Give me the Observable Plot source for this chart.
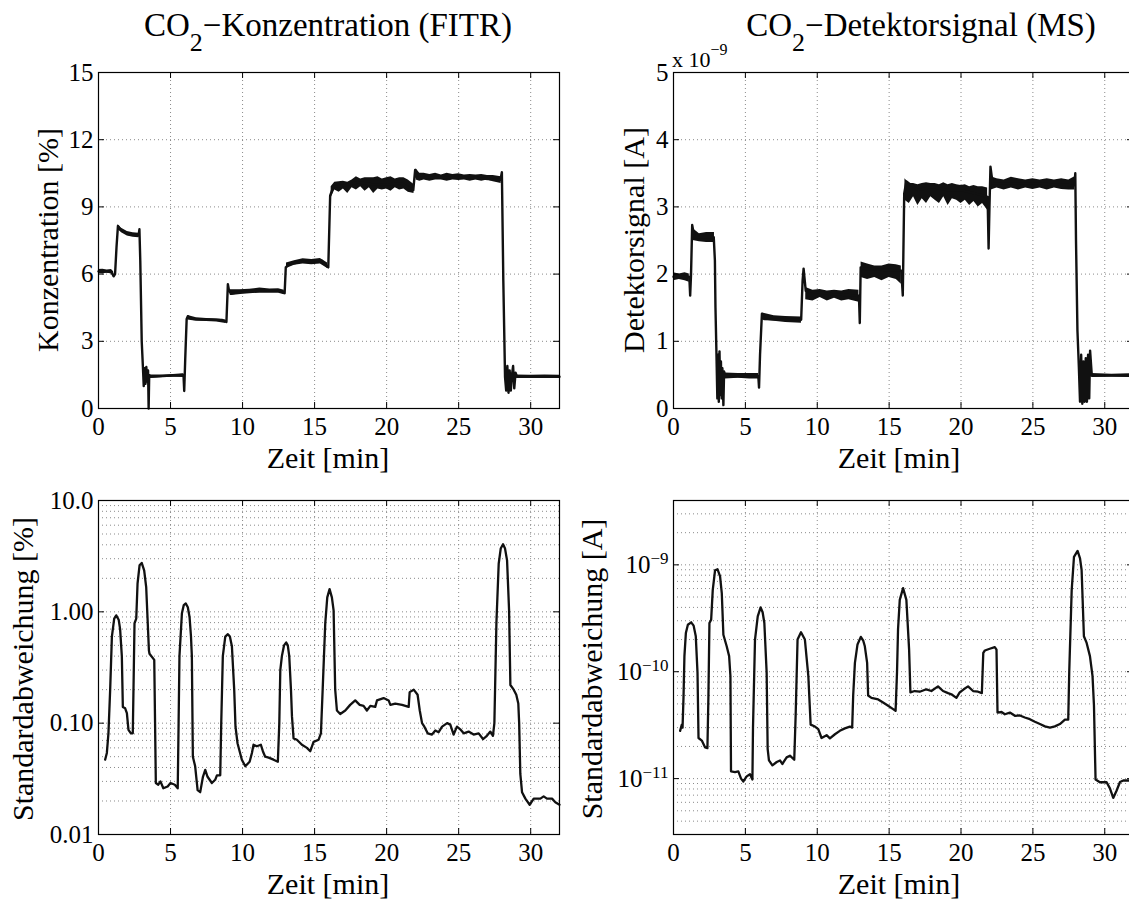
<!DOCTYPE html>
<html><head><meta charset="utf-8">
<script src="https://cdn.jsdelivr.net/npm/d3@7"></script>
<script src="https://cdn.jsdelivr.net/npm/@observablehq/plot@0.6"></script>
<style>
body{margin:0;background:#fff;}
#root{position:relative;width:1129px;height:904px;overflow:hidden;background:#fff;font-family:"Liberation Serif","Times New Roman",serif;color:#000;}
.abs{position:absolute;white-space:nowrap;line-height:1;}
.rot{transform:translate(-50%,-50%) rotate(-90deg);}
.cen{transform:translate(-50%,-50%);}
</style></head><body><div id="root"></div>
<script>
// ---------- data ----------
const timeTicks = [0,5,10,15,20,25,30];
const timeGrid = [5,10,15,20,25,30];
const ftirTicks = [0,3,6,9,12,15];
const msTicks = [0,1,2,3,4,5];            // x 10^-9 A
const sdFtirTicks = [0.01,0.1,1,10];
const sdFtirTickLabels = ["0.01","0.10","1.00","10.0"];
const sdFtirMinor = [0.02,0.03,0.04,0.05,0.06,0.07,0.08,0.09,0.2,0.3,0.4,0.5,0.6,0.7,0.8,0.9,2,3,4,5,6,7,8,9];
const sdMsTicks = [1e-11,1e-10,1e-9];
const sdMsTickLabels = ["10^\u221211","10^\u221210","10^\u22129"];
const sdMsMinor = [4e-12,5e-12,6e-12,7e-12,8e-12,9e-12,2e-11,3e-11,4e-11,5e-11,6e-11,7e-11,8e-11,9e-11,2e-10,3e-10,4e-10,5e-10,6e-10,7e-10,8e-10,9e-10,2e-9,3e-9];

// CO2 concentration (FTIR) [%]: [time min, value]
const ftirTrace = [[0,6.12],[0.9,6.1],[1.05,5.9],[1.15,6.0],[1.25,7.2],[1.35,8.15],[1.5,8.0],[2.0,7.8],[2.78,7.72],[2.84,8.0],[2.9,6.6],[2.95,4.8],[3.0,3.0],[3.08,1.9],[3.14,1.0],[3.2,1.8],[3.26,1.1],[3.32,1.85],[3.38,1.2],[3.44,1.7],[3.48,0.0],[3.52,1.5],[3.6,1.42],[5.9,1.5],[5.95,0.78],[6.02,2.2],[6.12,4.0],[6.2,4.12],[6.5,4.0],[8.6,3.95],[8.88,3.86],[8.98,5.55],[9.05,5.3],[9.2,5.12],[11,5.25],[12.5,5.27],[12.92,5.15],[13.0,6.3],[13.2,6.42],[14.0,6.55],[15.5,6.6],[15.85,6.35],[15.95,6.3],[16.08,9.5],[16.3,9.9],[17,9.95],[18,10.1],[19,10.0],[20,10.0],[21,10.05],[21.85,9.75],[21.98,10.65],[22.05,10.35],[22.3,10.3],[24,10.32],[26,10.3],[27.9,10.2],[28.0,10.55],[28.1,5.7],[28.22,1.4],[28.3,0.8],[28.38,1.9],[28.46,0.7],[28.54,1.7],[28.62,0.8],[28.7,1.5],[28.78,1.9],[28.86,0.9],[28.95,1.6],[29.05,1.42],[32,1.42]];
// noise envelope of the FTIR trace: [segment, time, low, high]
const ftirNoise = [
 [1,0,6.02,6.2],[1,0.3,6.0,6.22],[1,0.6,6.05,6.18],[1,0.9,6.0,6.2],[1,1.05,5.85,6.1],
 [2,1.35,8.0,8.2],[2,1.6,7.85,8.05],[2,2.0,7.7,7.9],[2,2.4,7.65,7.85],[2,2.8,7.62,7.82],
 [3,3.6,1.35,1.5],[3,4.5,1.38,1.5],[3,5.2,1.4,1.52],[3,5.9,1.38,1.55],
 [4,6.2,3.95,4.15],[4,6.8,3.9,4.05],[4,7.5,3.88,4.02],[4,8.2,3.86,4.0],[4,8.85,3.8,3.95],
 [5,9.15,5.05,5.3],[5,9.8,5.12,5.3],[5,10.5,5.12,5.32],[5,11.2,5.15,5.38],[5,11.9,5.15,5.33],[5,12.5,5.15,5.35],[5,12.9,5.08,5.28],
 [6,13.05,6.25,6.5],[6,13.6,6.4,6.6],[6,14.2,6.45,6.68],[6,14.8,6.42,6.65],[6,15.4,6.45,6.7],[6,15.9,6.25,6.5],
 [7,16.15,9.4,9.9],[7,16.4,9.75,10.1],[7,16.7,9.65,10.12],[7,17.0,9.8,10.15],[7,17.3,9.6,10.1],[7,17.6,9.85,10.2],[7,17.9,9.75,10.35],[7,18.2,9.9,10.25],[7,18.5,9.7,10.3],[7,18.8,9.85,10.3],[7,19.1,9.6,10.3],[7,19.4,9.8,10.35],[7,19.7,9.75,10.25],[7,20.0,9.8,10.3],[7,20.3,9.7,10.35],[7,20.6,9.85,10.25],[7,20.9,9.75,10.3],[7,21.2,9.8,10.3],[7,21.5,9.65,10.2],[7,21.9,9.6,10.0],
 [8,22.05,10.2,10.7],[8,22.3,10.15,10.5],[8,22.6,10.2,10.5],[8,23.0,10.15,10.45],[8,23.4,10.2,10.5],[8,23.8,10.2,10.42],[8,24.2,10.15,10.5],[8,24.6,10.2,10.45],[8,25.0,10.18,10.48],[8,25.4,10.2,10.42],[8,25.8,10.15,10.45],[8,26.2,10.2,10.42],[8,26.6,10.15,10.45],[8,27.0,10.2,10.4],[8,27.4,10.12,10.4],[8,27.95,10.05,10.35],
 [9,29.0,1.35,1.5],[9,30,1.36,1.48],[9,31,1.37,1.5],[9,32,1.36,1.48]];

// CO2 detector signal (MS) [x 10^-9 A]
const msTrace = [[0,1.96],[1.1,1.96],[1.16,1.68],[1.22,2.0],[1.3,2.73],[1.45,2.55],[2.0,2.55],[2.8,2.55],[2.88,2.2],[2.92,1.5],[2.98,0.9],[3.05,0.15],[3.1,0.8],[3.15,0.1],[3.2,0.85],[3.25,0.2],[3.3,0.7],[3.35,0.15],[3.4,0.6],[3.47,0.05],[3.52,0.55],[3.6,0.48],[5.9,0.48],[5.95,0.31],[6.02,0.8],[6.15,1.41],[6.3,1.33],[8.88,1.32],[8.98,1.9],[9.05,2.08],[9.2,1.75],[11,1.7],[12.9,1.68],[12.96,1.27],[13.02,2.1],[13.3,2.08],[15.85,2.05],[15.95,1.68],[16.05,3.2],[16.2,3.38],[17,3.25],[18,3.3],[19,3.25],[20,3.25],[21,3.2],[21.85,3.15],[21.92,2.38],[21.98,3.0],[22.05,3.6],[22.2,3.35],[25,3.35],[27.9,3.32],[27.95,3.5],[28.0,2.5],[28.1,1.16],[28.2,0.61],[28.28,0.1],[28.36,0.8],[28.44,0.07],[28.52,0.7],[28.6,0.1],[28.68,0.75],[28.76,0.1],[28.84,0.8],[28.92,0.15],[28.98,0.86],[29.1,0.49],[32,0.49]];
const msNoise = [
 [1,0,1.9,2.02],[1,0.4,1.92,2.0],[1,0.8,1.9,2.02],[1,1.1,1.88,2.0],
 [2,1.35,2.5,2.68],[2,1.8,2.48,2.6],[2,2.3,2.47,2.62],[2,2.85,2.47,2.62],
 [3,3.6,0.44,0.53],[3,4.5,0.45,0.52],[3,5.3,0.44,0.52],[3,5.92,0.44,0.52],
 [4,6.2,1.32,1.42],[4,7.0,1.3,1.38],[4,7.8,1.28,1.37],[4,8.9,1.27,1.36],
 [5,9.2,1.62,1.8],[5,9.7,1.6,1.76],[5,10.2,1.65,1.77],[5,10.7,1.6,1.75],[5,11.2,1.64,1.76],[5,11.7,1.6,1.75],[5,12.2,1.62,1.77],[5,12.9,1.58,1.76],
 [6,13.05,1.95,2.18],[6,13.5,1.92,2.15],[6,14.0,1.95,2.12],[6,14.5,1.9,2.12],[6,15.0,1.95,2.15],[6,15.5,1.92,2.14],[6,15.85,1.85,2.12],
 [7,16.1,3.1,3.42],[7,16.4,3.05,3.35],[7,16.7,3.15,3.35],[7,17.0,3.02,3.33],[7,17.3,3.12,3.35],[7,17.6,3.05,3.36],[7,17.9,3.15,3.35],[7,18.2,3.1,3.35],[7,18.5,3.05,3.33],[7,18.8,3.15,3.36],[7,19.1,3.02,3.33],[7,19.4,3.12,3.35],[7,19.7,3.1,3.33],[7,20.0,3.05,3.32],[7,20.3,3.1,3.33],[7,20.6,3.02,3.3],[7,20.9,3.08,3.32],[7,21.2,3.0,3.3],[7,21.5,3.05,3.3],[7,21.85,2.95,3.28],
 [8,22.1,3.25,3.45],[8,22.5,3.28,3.42],[8,23.0,3.25,3.4],[8,23.5,3.28,3.44],[8,24.0,3.25,3.42],[8,24.5,3.28,3.4],[8,25.0,3.26,3.42],[8,25.5,3.28,3.4],[8,26.0,3.25,3.42],[8,26.5,3.28,3.4],[8,27.0,3.26,3.42],[8,27.5,3.25,3.4],[8,27.92,3.25,3.45],
 [9,29.1,0.46,0.52],[9,30.5,0.47,0.51],[9,32,0.46,0.52]];

// standard deviation FTIR [%]
const sdFtir = [[0.46,0.047],[0.58,0.054],[0.69,0.081],[0.81,0.2],[0.93,0.6],[1.09,0.87],[1.23,0.93],[1.4,0.85],[1.5,0.7],[1.62,0.4],[1.69,0.14],[1.85,0.136],[1.97,0.123],[2.08,0.087],[2.25,0.081],[2.38,0.081],[2.45,0.3],[2.5,0.79],[2.62,0.87],[2.71,1.79],[2.85,2.62],[3.0,2.75],[3.17,2.36],[3.31,1.67],[3.4,0.9],[3.5,0.45],[3.54,0.42],[3.87,0.37],[3.98,0.029],[4.15,0.028],[4.3,0.03],[4.5,0.026],[4.8,0.027],[5.0,0.029],[5.3,0.028],[5.5,0.026],[5.56,0.1],[5.62,0.4],[5.79,0.97],[5.92,1.15],[6.06,1.19],[6.2,1.1],[6.32,0.9],[6.42,0.6],[6.48,0.4],[6.55,0.05],[6.71,0.041],[6.88,0.025],[7.06,0.024],[7.25,0.033],[7.41,0.038],[7.57,0.033],[7.87,0.029],[8.1,0.031],[8.22,0.034],[8.45,0.034],[8.52,0.1],[8.63,0.4],[8.8,0.6],[8.98,0.63],[9.12,0.6],[9.26,0.49],[9.42,0.2],[9.51,0.093],[9.65,0.066],[9.95,0.047],[10.19,0.041],[10.49,0.045],[10.65,0.054],[10.76,0.064],[10.99,0.062],[11.27,0.064],[11.41,0.056],[11.57,0.05],[11.81,0.049],[12.15,0.047],[12.45,0.045],[12.55,0.1],[12.62,0.3],[12.73,0.4],[12.88,0.5],[13.03,0.53],[13.14,0.5],[13.24,0.4],[13.36,0.2],[13.43,0.115],[13.54,0.073],[13.77,0.071],[14.12,0.064],[14.47,0.06],[14.7,0.056],[14.93,0.068],[15.28,0.071],[15.44,0.081],[15.56,0.2],[15.74,0.79],[15.88,1.35],[16.04,1.6],[16.2,1.35],[16.32,1.03],[16.43,0.2],[16.55,0.13],[16.78,0.121],[17.13,0.13],[17.47,0.146],[17.82,0.16],[18.13,0.146],[18.4,0.143],[18.63,0.13],[18.87,0.143],[19.21,0.14],[19.33,0.16],[19.79,0.168],[20.14,0.16],[20.26,0.146],[20.6,0.15],[21.07,0.146],[21.53,0.14],[21.6,0.19],[21.88,0.2],[22.15,0.18],[22.3,0.13],[22.46,0.1],[22.62,0.093],[22.85,0.081],[23.15,0.079],[23.38,0.086],[23.61,0.083],[23.85,0.093],[24.2,0.1],[24.42,0.097],[24.65,0.079],[24.88,0.093],[25.11,0.088],[25.35,0.081],[25.69,0.084],[26.04,0.079],[26.39,0.081],[26.69,0.072],[26.92,0.076],[27.2,0.084],[27.38,0.077],[27.48,0.1],[27.62,0.79],[27.78,2.71],[27.92,3.7],[28.08,4.04],[28.22,3.7],[28.36,2.9],[28.5,1.03],[28.59,0.22],[28.82,0.2],[29.0,0.18],[29.14,0.15],[29.2,0.1],[29.28,0.035],[29.4,0.024],[29.63,0.021],[29.93,0.0185],[30.21,0.021],[30.67,0.021],[30.9,0.022],[31.13,0.021],[31.48,0.021],[31.71,0.0195],[32,0.0185]];

// standard deviation MS [A]
const sdMs = [[0.46,2.8e-11],[0.58,3.2e-11],[0.63,3.0e-11],[0.7,6e-11],[0.76,1.4e-10],[0.86,2.3e-10],[1.0,2.75e-10],[1.23,2.9e-10],[1.4,2.7e-10],[1.55,2.15e-10],[1.67,9.8e-11],[1.74,2.4e-11],[1.97,2.27e-11],[2.2,1.96e-11],[2.36,1.93e-11],[2.43,6e-11],[2.5,2.86e-10],[2.62,3.07e-10],[2.73,5.8e-10],[2.89,8.9e-10],[3.06,9.1e-10],[3.24,7.8e-10],[3.36,5.4e-10],[3.47,2.22e-10],[3.7,1.73e-10],[3.87,1.4e-10],[3.96,9.1e-11],[4.0,1.17e-11],[4.28,1.15e-11],[4.51,1.17e-11],[4.7,1.0e-11],[4.86,9.4e-12],[5.09,1.05e-11],[5.32,1.1e-11],[5.49,9.8e-12],[5.53,3e-11],[5.67,2.0e-10],[5.86,3.3e-10],[6.06,4.0e-10],[6.2,3.6e-10],[6.32,2.86e-10],[6.48,9.8e-11],[6.55,1.9e-11],[6.64,1.48e-11],[6.88,1.33e-11],[7.18,1.43e-11],[7.41,1.48e-11],[7.57,1.37e-11],[7.87,1.58e-11],[8.1,1.64e-11],[8.4,1.5e-11],[8.5,4e-11],[8.63,2.0e-10],[8.87,2.34e-10],[9.14,2.0e-10],[9.38,9.1e-11],[9.54,3.2e-11],[9.84,3.07e-11],[10.07,2.9e-11],[10.3,2.4e-11],[10.65,2.55e-11],[10.88,2.38e-11],[11.23,2.6e-11],[11.57,2.8e-11],[11.92,2.95e-11],[12.27,3.07e-11],[12.43,3.0e-11],[12.5,6e-11],[12.62,1.21e-10],[12.8,1.8e-10],[13.03,2.12e-10],[13.2,1.95e-10],[13.31,1.73e-10],[13.47,1.21e-10],[13.54,6.0e-11],[13.77,5.7e-11],[14.24,5.5e-11],[14.58,5.15e-11],[14.93,4.8e-11],[15.28,4.47e-11],[15.45,4.3e-11],[15.55,1e-10],[15.62,2.5e-10],[15.74,4.7e-10],[15.97,6.05e-10],[16.2,4.7e-10],[16.39,1.61e-10],[16.48,6.4e-11],[16.78,6.6e-11],[17.13,6.5e-11],[17.59,6.85e-11],[17.94,6.6e-11],[18.4,7.3e-11],[18.75,6.6e-11],[19.1,6.3e-11],[19.33,6.15e-11],[19.68,5.7e-11],[19.91,6.4e-11],[20.19,6.85e-11],[20.49,7.3e-11],[20.84,6.6e-11],[21.19,6.5e-11],[21.45,6.3e-11],[21.55,1.5e-10],[21.66,1.58e-10],[22.0,1.64e-10],[22.35,1.7e-10],[22.47,1.61e-10],[22.54,4.15e-11],[22.82,4.2e-11],[23.05,4.0e-11],[23.4,4.15e-11],[23.75,3.87e-11],[24.1,3.9e-11],[24.44,3.73e-11],[24.79,3.6e-11],[25.14,3.4e-11],[25.49,3.24e-11],[25.84,3.08e-11],[26.19,3.0e-11],[26.53,3.08e-11],[26.88,3.24e-11],[27.23,3.56e-11],[27.46,3.56e-11],[27.53,1e-10],[27.7,5.8e-10],[27.86,1.19e-9],[28.11,1.35e-9],[28.28,1.15e-9],[28.39,8.95e-10],[28.55,2.15e-10],[28.74,1.86e-10],[28.97,1.4e-10],[29.15,9.1e-11],[29.25,4.8e-11],[29.36,9.8e-12],[29.66,9.25e-12],[30.13,9.25e-12],[30.36,8.1e-12],[30.59,6.6e-12],[30.82,7.7e-12],[31.06,9.3e-12],[31.29,9.6e-12],[31.68,9.6e-12],[32,9.6e-12]];

// ---------- drawing ----------
const root = document.getElementById("root");
const gridStyle = {stroke: "#8a8a8a", strokeWidth: 1, strokeDasharray: "1,3"};
const ink = "#111";
const serif = "Liberation Serif";
const labelStyle = {fontFamily: serif, fontSize: 25, fill: "#000", stroke: null};

function panel(o) {
  const fw = o.width - o.mL - o.mR, fh = o.height - o.mT - o.mB;
  const yt = o.yTicks;
  const marks = [
    Plot.ruleX(timeGrid, {x: d => d, ...gridStyle}),
    ...(o.yMinor ? [Plot.ruleY(o.yMinor, {y: d => d, ...gridStyle})] : []),
    Plot.ruleY(o.yGrid, {y: d => d, ...gridStyle}),
    ...o.marks,
    Plot.tickX(timeTicks, {x: d => d, insetTop: fh - 6, stroke: "#000"}),
    Plot.tickX(timeTicks, {x: d => d, insetBottom: fh - 6, stroke: "#000"}),
    Plot.tickY(yt, {y: d => d, insetRight: fw - 6, stroke: "#000"}),
    Plot.tickY(yt, {y: d => d, insetLeft: fw - 6, stroke: "#000"}),
    Plot.frame({stroke: "#000", strokeWidth: 1.2}),
    // tick labels
    Plot.text(timeTicks, {x: d => d, frameAnchor: "bottom", dy: 18, lineAnchor: "middle", textAnchor: "middle", text: d => String(d), ...labelStyle}),
    Plot.text(yt, {y: d => d, frameAnchor: "left", dx: -5, lineAnchor: "middle", textAnchor: "end", text: (d, i) => o.yLabels[i], ...labelStyle})
  ];
  const svg = Plot.plot({
    width: o.width, height: o.height,
    marginLeft: o.mL, marginRight: o.mR, marginTop: o.mT, marginBottom: o.mB,
    style: {background: "transparent", overflow: "visible"},
    x: {domain: [0, 32], axis: null},
    y: {...o.y, axis: null},
    marks
  });
  svg.style.position = "absolute";
  svg.style.left = o.left + "px";
  svg.style.top = o.top + "px";
  svg.style.maxWidth = "none";
  root.appendChild(svg);
  return svg;
}

const noiseArea = (rows) => Plot.areaY(rows, {x: d => d[1], y1: d => d[2], y2: d => d[3], z: d => d[0], fill: ink});

panel({left: 0, top: 0, width: 565, height: 460, mL: 98, mR: 6, mT: 72, mB: 52,
  y: {domain: [0, 15]}, yTicks: ftirTicks, yLabels: ftirTicks.map(String), yGrid: [3, 6, 9, 12],
  marks: [
    noiseArea(ftirNoise),
    Plot.line(ftirTrace, {x: d => d[0], y: d => d[1], stroke: ink, strokeWidth: 2.4, strokeLinejoin: "round"})
  ]});

panel({left: 560, top: 0, width: 575, height: 460, mL: 113, mR: 2, mT: 72, mB: 52,
  y: {domain: [0, 5]}, yTicks: msTicks, yLabels: msTicks.map(String), yGrid: [1, 2, 3, 4],
  marks: [
    noiseArea(msNoise),
    Plot.line(msTrace, {x: d => d[0], y: d => d[1], stroke: ink, strokeWidth: 2.4, strokeLinejoin: "round"})
  ]});

panel({left: 0, top: 460, width: 565, height: 444, mL: 98, mR: 6, mT: 40, mB: 70,
  y: {type: "log", domain: [0.01, 10]},
  yTicks: sdFtirTicks, yLabels: sdFtirTickLabels, yGrid: [0.1, 1], yMinor: sdFtirMinor,
  marks: [
    Plot.line(sdFtir, {x: d => d[0], y: d => d[1], stroke: ink, strokeWidth: 2.3, strokeLinejoin: "round"})
  ]});

const br = panel({left: 560, top: 460, width: 575, height: 444, mL: 113, mR: 2, mT: 40, mB: 70,
  y: {type: "log", domain: [3e-12, 4e-9]},
  yTicks: sdMsTicks, yLabels: sdMsTickLabels, yGrid: sdMsTicks, yMinor: sdMsMinor,
  marks: [
    Plot.line(sdMs, {x: d => d[0], y: d => d[1], stroke: ink, strokeWidth: 2.3, strokeLinejoin: "round"})
  ]});

// superscript exponents on the log tick labels
br.querySelectorAll("text").forEach(t => {
  const s = t.textContent;
  if (s.includes("^")) {
    const [b, e] = s.split("^");
    t.textContent = "";
    const ns = "http://www.w3.org/2000/svg";
    const t1 = document.createElementNS(ns, "tspan"); t1.textContent = b;
    const t2 = document.createElementNS(ns, "tspan"); t2.textContent = e;
    t2.setAttribute("dy", "-0.5em"); t2.setAttribute("font-size", "17px");
    t.appendChild(t1); t.appendChild(t2);
  }
});

// ---------- text ----------
function addText(html, css, cls) {
  const d = document.createElement("div");
  d.className = "abs " + (cls || "");
  d.innerHTML = html;
  Object.assign(d.style, css);
  root.appendChild(d);
}
const sub2 = '<span style="font-size:26px;position:relative;top:15px">2</span>';
addText("CO" + sub2 + "\u2212Konzentration (FITR)", {left: "328px", top: "9px", fontSize: "33px", transform: "translateX(-50%)"});
addText("CO" + sub2 + "\u2212Detektorsignal (MS)", {left: "921px", top: "9px", fontSize: "33px", transform: "translateX(-50%)"});
addText('x 10<span style="font-size:16px;position:relative;top:-12px">\u22129</span>', {left: "672px", top: "49px", fontSize: "22px"});

addText("Konzentration [%]", {left: "48px", top: "240px", fontSize: "30px"}, "rot");
addText("Detektorsignal [A]", {left: "634px", top: "240px", fontSize: "30px"}, "rot");
addText("Standardabweichung [%]", {left: "23px", top: "669px", fontSize: "30px"}, "rot");
addText("Standardabweichung [A]", {left: "592px", top: "669px", fontSize: "30px"}, "rot");

addText("Zeit [min]", {left: "328px", top: "458px", fontSize: "30px"}, "cen");
addText("Zeit [min]", {left: "899px", top: "458px", fontSize: "30px"}, "cen");
addText("Zeit [min]", {left: "328px", top: "884px", fontSize: "30px"}, "cen");
addText("Zeit [min]", {left: "899px", top: "884px", fontSize: "30px"}, "cen");
</script></body></html>
